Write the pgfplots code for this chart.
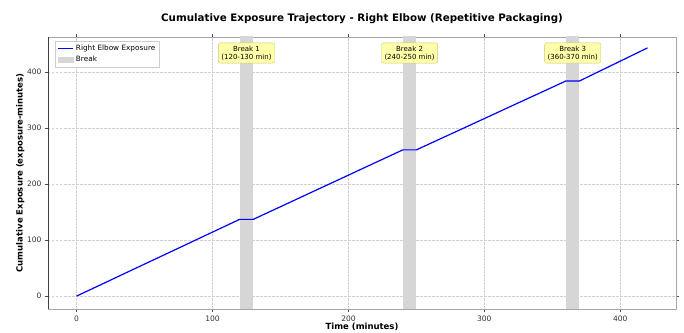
\documentclass[border=0pt]{standalone}
\usepackage{fontspec}
\setmainfont{DejaVu Sans}
\usepackage{pgfplots}
\pgfplotsset{compat=1.18}
\definecolor{bandgray}{HTML}{D6D6D6}
\definecolor{boxyellow}{HTML}{FFFFAA}
\definecolor{boxedge}{HTML}{C8C87A}
\definecolor{gridgray}{HTML}{D0D0D0}
\begin{document}
\begin{tikzpicture}
\begin{axis}[
  scale only axis,
  width=628pt, height=272pt,
  xmin=-21, xmax=441,
  ymin=-23, ymax=462.5,
  xtick={0,100,200,300,400},
  ytick={0,100,200,300,400},
  /pgf/number format/assume math mode=true,
  ticklabel style={font=\fontsize{7.5}{9}\selectfont, text=black!80},
  tick align=outside,
  major tick length=3pt,
  tick style={black!70},
  grid=major,
  major grid style={gridgray, dash pattern=on 2.5pt off 1.5pt, line width=0.4pt},
  axis line style={black!35, line width=0.8pt},
  title={\bfseries Cumulative Exposure Trajectory - Right Elbow (Repetitive Packaging)},
  title style={font=\fontsize{10.3}{12}\selectfont, yshift=4pt},
  xlabel={\bfseries Time (minutes)},
  ylabel={\bfseries Cumulative Exposure (exposure-minutes)},
  label style={font=\fontsize{8.5}{10}\selectfont},
  xlabel style={yshift=5pt},
  ylabel style={yshift=-4pt},
  legend style={font=\fontsize{7.3}{8.5}\selectfont, draw=black!20, inner sep=2pt, row sep=0pt, at={(0.011,0.985)}, anchor=north west},
  legend image code/.code={\draw[#1] (0cm,0cm) -- (0.55cm,0cm);},
  legend cell align=left,
  clip=true,
]
\addplot[draw=none, fill=bandgray, forget plot] coordinates {(120,-50) (120,500) (130,500) (130,-50)} -- cycle;
\addplot[draw=none, fill=bandgray, forget plot] coordinates {(240,-50) (240,500) (250,500) (250,-50)} -- cycle;
\addplot[draw=none, fill=bandgray, forget plot] coordinates {(360,-50) (360,500) (370,500) (370,-50)} -- cycle;
\addplot[blue, line width=1.2pt, mark=none] coordinates {
(0,0) (10,11.4) (20,22.8) (30,34.3) (40,45.7) (50,57.1) (60,68.5) (70,79.9) (80,91.3) (90,102.8) (100,114.2) (110,125.6) (120,137)
(130,137)
(140,148.3) (150,159.5) (160,170.8) (170,182.1) (180,193.4) (190,204.6) (200,215.9) (210,227.2) (220,238.5) (230,249.7) (240,261)
(250,261)
(260,272.2) (270,283.4) (280,294.5) (290,305.7) (300,316.9) (310,328.1) (320,339.3) (330,350.5) (340,361.6) (350,372.8) (360,384)
(370,384)
(380,395.8) (390,407.6) (400,419.4) (410,431.2) (420,443)
};
\addlegendentry{Right Elbow Exposure}
\addlegendimage{legend image code/.code={\fill[bandgray] (0cm,-0.09cm) rectangle (0.55cm,0.09cm);}}
\addlegendentry{Break}
\node[fill=boxyellow, draw=boxedge, rounded corners=2pt, align=center, font=\fontsize{7}{8}\selectfont, inner sep=3pt] at (axis cs:125,434) {Break 1\\(120-130 min)};
\node[fill=boxyellow, draw=boxedge, rounded corners=2pt, align=center, font=\fontsize{7}{8}\selectfont, inner sep=3pt] at (axis cs:245,434) {Break 2\\(240-250 min)};
\node[fill=boxyellow, draw=boxedge, rounded corners=2pt, align=center, font=\fontsize{7}{8}\selectfont, inner sep=3pt] at (axis cs:365,434) {Break 3\\(360-370 min)};
\draw[black!75, line width=0.8pt] (rel axis cs:0,1) -- (rel axis cs:0,0) -- (rel axis cs:1,0);
\end{axis}
\pgfresetboundingbox
\path (current axis.south west) ++(-48pt,-24pt) coordinate (bl);
\path (current axis.north east) ++(8pt,37pt) coordinate (tr);
\path (bl) rectangle (tr);
\end{tikzpicture}
\end{document}
